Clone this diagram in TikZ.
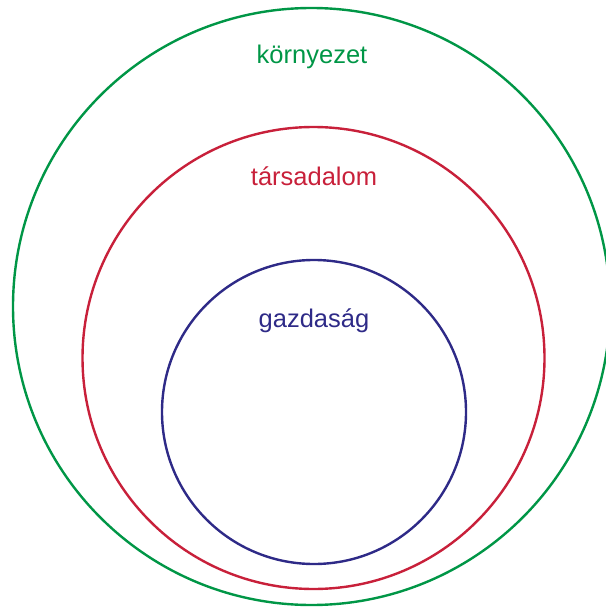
\documentclass[tikz,border=0pt]{standalone}
\usepackage{fontspec}
\setmainfont{Liberation Sans}
\definecolor{envgreen}{RGB}{0,150,70}
\definecolor{socred}{RGB}{200,32,58}
\definecolor{ecoblue}{RGB}{46,42,135}
\begin{document}
\begin{tikzpicture}[x=1pt,y=-1pt,
  ring/.style={line width=2.4pt},
  lbl/.style={font=\fontsize{25.5}{30}\selectfont, inner sep=0pt}]
\useasboundingbox (0,0) rectangle (605,609);
\draw[ring, envgreen] (311.5,306.5) circle[radius=298.5];
\draw[ring, socred] (313.5,358) circle[radius=231];
\draw[ring, ecoblue] (314,412) circle[radius=152];
\node[lbl, text=envgreen] (env) at (312,57) {környezet};
\node[lbl, text=socred] (soc) at (314,176) {társadalom};
\node[lbl, text=ecoblue] (eco) at (314,321) {gazdaság};
\end{tikzpicture}
\end{document}
